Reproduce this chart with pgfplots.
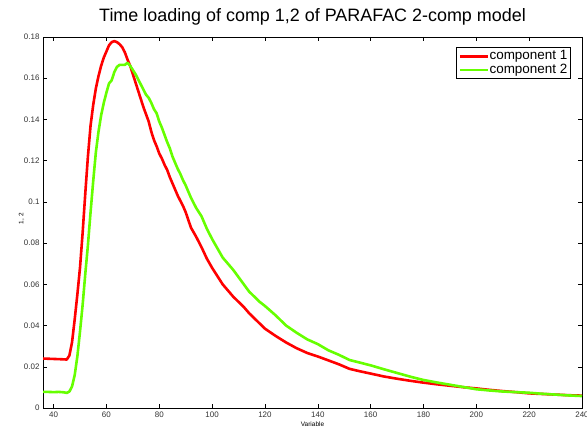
\documentclass[border=0pt]{standalone}
\usepackage{fontspec}
\setmainfont{Liberation Sans}
\usepackage{pgfplots}
\usepackage{pgfplotstable}
\pgfplotsset{compat=1.18}

\definecolor{compred}{RGB}{255,0,0}
\definecolor{compgreen}{RGB}{102,255,0}

% Time loadings of the two PARAFAC components
\pgfplotstableread{
x y
36 0.0240
38 0.0239
40 0.0238
42 0.0237
44 0.0236
45 0.0235
46 0.0255
47 0.0320
48 0.0430
49 0.0550
50 0.0680
51 0.0850
52 0.1040
53 0.1220
54 0.1370
55 0.1470
56 0.1550
57 0.1610
58 0.1660
59 0.1700
60 0.1730
61 0.1760
62 0.1775
63 0.1780
64 0.1775
65 0.1765
66 0.1750
67 0.1725
68 0.1690
69 0.1660
70 0.1620
71 0.1580
72 0.1540
73 0.1500
74 0.1460
75 0.1425
76 0.1390
77 0.1340
78 0.1300
79 0.1270
80 0.1235
81 0.1210
82 0.1180
83 0.1155
84 0.1120
85 0.1090
86 0.1060
87 0.1030
88 0.1005
89 0.0980
90 0.0950
92 0.0875
94 0.0830
96 0.0780
98 0.0725
100 0.0680
102 0.0640
104 0.0600
106 0.0570
108 0.0540
110 0.0515
112 0.0490
114 0.0460
116 0.0435
118 0.0410
120 0.0385
124 0.0350
128 0.0318
132 0.0290
136 0.0267
140 0.0250
144 0.0231
148 0.0212
152 0.0190
156 0.0178
160 0.0167
165 0.0153
170 0.0142
175 0.0132
180 0.0123
185 0.0115
190 0.0108
195 0.0101
200 0.0095
205 0.0088
210 0.0082
215 0.0077
220 0.0071
225 0.0068
230 0.0065
235 0.0062
240 0.0060
}\compone

\pgfplotstableread{
x y
36 0.0078
38 0.0078
40 0.0077
42 0.0078
44 0.0076
45 0.0073
46 0.0080
47 0.0105
48 0.0160
49 0.0250
50 0.0370
51 0.0500
52 0.0650
53 0.0790
54 0.0950
55 0.1100
56 0.1240
57 0.1340
58 0.1420
59 0.1480
60 0.1530
61 0.1575
62 0.1590
63 0.1630
64 0.1655
65 0.1665
66 0.1665
67 0.1665
68 0.1675
69 0.1660
70 0.1640
71 0.1620
72 0.1595
73 0.1570
74 0.1545
75 0.1520
76 0.1505
77 0.1480
78 0.1450
79 0.1430
80 0.1390
81 0.1360
82 0.1325
83 0.1290
84 0.1260
85 0.1220
86 0.1190
87 0.1160
88 0.1135
89 0.1105
90 0.1080
92 0.1020
94 0.0970
96 0.0930
98 0.0870
100 0.0820
102 0.0775
104 0.0730
106 0.0700
108 0.0670
110 0.0635
112 0.0600
114 0.0565
116 0.0540
118 0.0515
120 0.0495
124 0.0450
128 0.0400
132 0.0365
136 0.0333
140 0.0310
144 0.0280
148 0.0258
152 0.0233
156 0.0220
160 0.0207
165 0.0188
170 0.0170
175 0.0152
180 0.0136
185 0.0124
190 0.0113
195 0.0102
200 0.0091
205 0.0085
210 0.0080
215 0.0077
220 0.0074
225 0.0069
230 0.0065
235 0.0061
240 0.0058
}\comptwo

\begin{document}
\begin{tikzpicture}
\begin{axis}[
  at={(0,0)}, anchor=south west,
  scale only axis,
  width=539bp, height=371bp,
  xmin=36, xmax=240, ymin=0, ymax=0.18,
  xtick={40,60,...,240},
  ytick={0,0.02,...,0.18},
  scaled y ticks=false,
  /pgf/number format/assume math mode=true,
  /pgf/number format/fixed,
  yticklabel style={/pgf/number format/precision=2},
  tick label style={font=\fontsize{8}{9}\selectfont, color=black!80},
  tick align=inside,
  major tick length=4bp,
  tick style={black, line width=0.5bp},
  axis line style={black, line width=0.7bp},
  xtick pos=both, ytick pos=both,
  xticklabel pos=left, yticklabel pos=left,
  xlabel={Variable},
  ylabel={1, 2},
  label style={font=\fontsize{6.5}{7}\selectfont},
  xlabel style={at={(axis description cs:0.5,0)}, anchor=center, yshift=-16bp},
  ylabel style={at={(axis description cs:-0.040,0.51)}, anchor=center},
  title={Time loading of comp 1,2 of PARAFAC 2-comp model},
  title style={font=\fontsize{18}{20}\selectfont, at={(axis description cs:0.5,1)}, anchor=base, yshift=10bp},
  legend style={at={(0.978,0.972)}, anchor=north east, draw=black, line width=0.6bp,
    font=\fontsize{13.5}{14}\selectfont, inner sep=2bp, row sep=0bp,
    nodes={inner sep=0.5bp, text height=9.5bp, text depth=3bp},
    legend cell align=left},
  legend image code/.code={\draw[#1, line width=2.5bp] (0bp,0bp) -- (28bp,0bp);},
  every axis plot/.append style={line width=2.6bp, line join=round},
]
\addplot[compred, no marks] table[x=x, y=y] {\compone};
\addlegendentry{component 1}
\addplot[compgreen, no marks] table[x=x, y=y] {\comptwo};
\addlegendentry{component 2}
\end{axis}
\pgfresetboundingbox
\path[use as bounding box] (-43bp,-23bp) rectangle (544bp,408bp);
\end{tikzpicture}
\end{document}
